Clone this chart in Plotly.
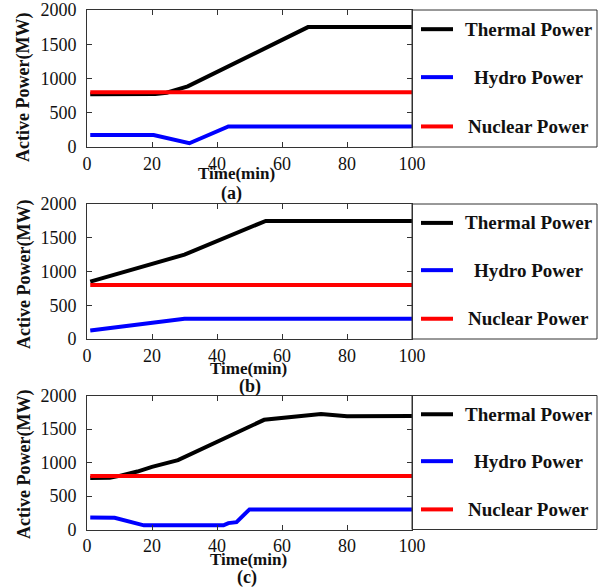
import plotly.graph_objects as go

W, H = 606, 588

# ---------------- data ----------------
series_names = ["Thermal Power", "Hydro Power", "Nuclear Power"]
series_colors = ["#000000", "#0000ff", "#ff0000"]
panel_labels = ["(a)", "(b)", "(c)"]
x_title = "Time(min)"
y_title = "Active Power(MW)"
x_ticks = [0, 20, 40, 60, 80, 100]
y_ticks = [0, 500, 1000, 1500, 2000]

# panel (a)
t_a_thermal = [1, 21, 24.5, 28.5, 31, 68, 100]
thermal_a = [770, 772, 792, 840, 885, 1750, 1750]
t_a_hydro = [1, 20.5, 31.5, 43.5, 100]
hydro_a = [175, 175, 55, 300, 300]
t_a_nuclear = [1, 100]
nuclear_a = [800, 800]

# panel (b)
t_b_thermal = [1, 30, 55, 100]
thermal_b = [850, 1250, 1750, 1750]
t_b_hydro = [1, 30, 100]
hydro_b = [125, 300, 300]
t_b_nuclear = [1, 100]
nuclear_b = [800, 800]

# panel (c)
t_c_thermal = [1, 7, 10, 15.5, 20, 28, 54.5, 60, 72, 80, 100]
thermal_c = [770, 772, 800, 865, 935, 1035, 1637, 1665, 1725, 1692, 1695]
t_c_hydro = [1, 7, 8.5, 17.5, 42, 43.5, 46, 50, 100]
hydro_c = [180, 180, 175, 62, 62, 95, 110, 300, 300]
t_c_nuclear = [1, 100]
nuclear_c = [800, 800]

panels = [
    [(t_a_thermal, thermal_a), (t_a_hydro, hydro_a), (t_a_nuclear, nuclear_a)],
    [(t_b_thermal, thermal_b), (t_b_hydro, hydro_b), (t_b_nuclear, nuclear_b)],
    [(t_c_thermal, thermal_c), (t_c_hydro, hydro_c), (t_c_nuclear, nuclear_c)],
]

# ---------------- layout geometry (pixels) ----------------
tops = [10, 204, 395.5]
bottoms = [147, 339, 529.5]
left, right, leg_right = 87, 412, 597
ytitle_y = [88, 275, 465]
xtitle_pos = [(236, 173.5), (249, 368.5), (249, 559.5)]
plabel_pos = [(231, 193.5), (250, 386), (247.5, 577)]
legend_rel = [0.14, 0.49, 0.85]


def px(p):
    return p / W


def py(p):
    return 1 - p / H


FONT = "Liberation Serif"
AXC = "#333333"

fig = go.Figure()
layout = dict(
    width=W, height=H,
    margin=dict(l=0, r=0, t=0, b=0, autoexpand=False),
    paper_bgcolor="white", plot_bgcolor="white",
    showlegend=False,
    font=dict(family=FONT, color="#111111"),
)
shapes, annots = [], []

for i, panel in enumerate(panels):
    k = "" if i == 0 else str(i + 1)
    for (t, v), name, col in zip(panel, series_names, series_colors):
        fig.add_trace(go.Scatter(x=t, y=v, mode="lines", name=name,
                                 line=dict(color=col, width=4),
                                 xaxis="x" + k, yaxis="y" + k))
    layout["xaxis" + k] = dict(
        domain=[px(left), px(right)], range=[0, 100], anchor="y" + k,
        tickvals=x_ticks, ticks="inside", ticklen=5, tickcolor=AXC,
        showline=True, linecolor=AXC, linewidth=1, mirror="ticks",
        showgrid=False, zeroline=False, automargin=False,
        tickfont=dict(family=FONT, size=18, color="#111111"),
    )
    layout["yaxis" + k] = dict(
        domain=[py(bottoms[i]), py(tops[i])], range=[0, 2000], anchor="x" + k,
        tickvals=y_ticks, ticks="inside", ticklen=5, tickcolor=AXC,
        showline=True, linecolor=AXC, linewidth=1, mirror="ticks",
        showgrid=False, zeroline=False, automargin=False,
        ticklabelstandoff=6,
        tickfont=dict(family=FONT, size=18, color="#111111"),
    )
    # legend box
    shapes.append(dict(type="rect", xref="paper", yref="paper",
                       x0=px(right), x1=px(leg_right), y0=py(bottoms[i]), y1=py(tops[i]),
                       line=dict(color=AXC, width=1), fillcolor="rgba(0,0,0,0)"))
    hgt = bottoms[i] - tops[i]
    for j, (name, col) in enumerate(zip(series_names, series_colors)):
        yy = tops[i] + legend_rel[j] * hgt
        shapes.append(dict(type="line", xref="paper", yref="paper",
                           x0=px(421), x1=px(453), y0=py(yy), y1=py(yy),
                           line=dict(color=col, width=4)))
        annots.append(dict(text="<b>%s</b>" % name, xref="paper", yref="paper",
                           x=px(528.5), y=py(yy), xanchor="center", yanchor="middle",
                           showarrow=False, font=dict(family=FONT, size=19, color="#111111")))
    # axis titles and panel label
    annots.append(dict(text="<b>%s</b>" % y_title, xref="paper", yref="paper",
                       x=px(24), y=py(ytitle_y[i]), textangle=-90,
                       xanchor="center", yanchor="middle", showarrow=False,
                       font=dict(family=FONT, size=18, color="#111111")))
    annots.append(dict(text="<b>%s</b>" % x_title, xref="paper", yref="paper",
                       x=px(xtitle_pos[i][0]), y=py(xtitle_pos[i][1]),
                       xanchor="center", yanchor="middle", showarrow=False,
                       font=dict(family=FONT, size=17, color="#111111")))
    annots.append(dict(text="<b>%s</b>" % panel_labels[i], xref="paper", yref="paper",
                       x=px(plabel_pos[i][0]), y=py(plabel_pos[i][1]),
                       xanchor="center", yanchor="middle", showarrow=False,
                       font=dict(family=FONT, size=18, color="#111111")))

layout["shapes"] = shapes
layout["annotations"] = annots
fig.update_layout(**layout)
fig.write_html("out.html")
